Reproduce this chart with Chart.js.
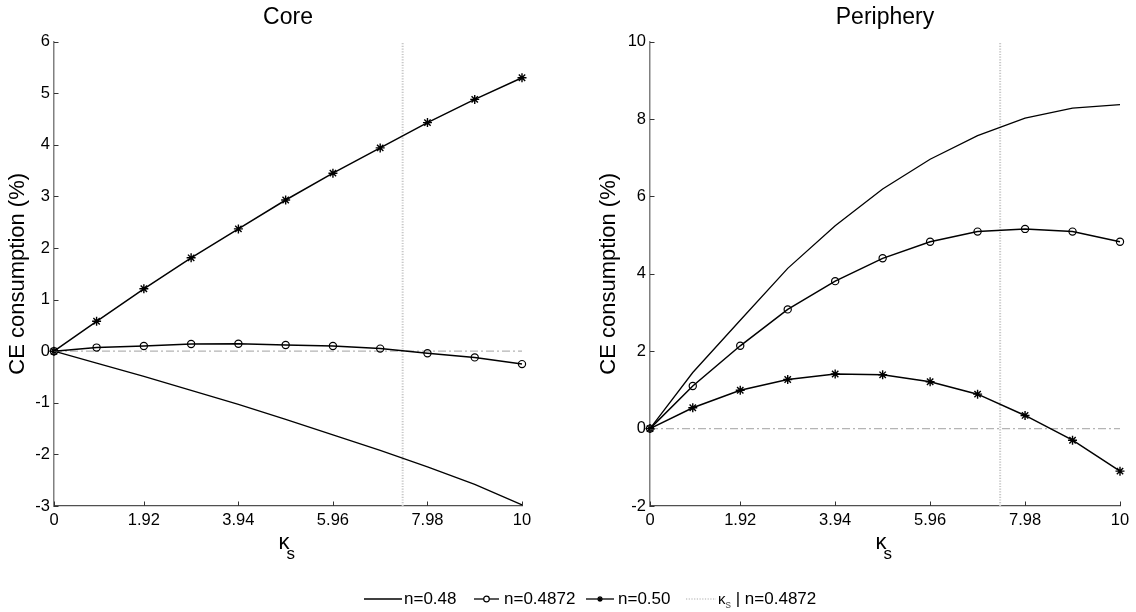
<!DOCTYPE html>
<html>
<head>
<meta charset="utf-8">
<script src="https://cdn.jsdelivr.net/npm/chart.js@4"></script>
<style>
  body { margin: 0; background: #fff; }
  #wrap { position: relative; width: 1136px; height: 612px; overflow: hidden; font-family: "Liberation Sans", Arial, sans-serif; }
  canvas { position: absolute; top: 0; }
  #core { left: 0; }
  #peri { left: 568px; }
  .lg { position: absolute; top: 589px; height: 20px; line-height: 20px; font-size: 17px; color: #000; white-space: nowrap; }
  .lg svg { position: absolute; top: 0; }
  .lg sub { font-size: 11px; vertical-align: -4px; color: #555; }
</style>
</head>
<body>
<div id="wrap">
  <canvas id="core" width="568" height="612"></canvas>
  <canvas id="peri" width="568" height="612"></canvas>

  <div class="lg" style="left:364px;"><svg width="38" height="20"><line x1="0" y1="10" x2="38" y2="10" stroke="#000" stroke-width="1.3"/></svg></div>
  <div class="lg" style="left:404px;">n=0.48</div>
  <div class="lg" style="left:474px;"><svg width="25" height="20"><line x1="0" y1="10" x2="25" y2="10" stroke="#000" stroke-width="1.3"/><circle cx="12.5" cy="10" r="2.8" fill="#fff" stroke="#000" stroke-width="1.2"/></svg></div>
  <div class="lg" style="left:504px;">n=0.4872</div>
  <div class="lg" style="left:586px;"><svg width="28" height="20"><line x1="0" y1="10" x2="28" y2="10" stroke="#000" stroke-width="1.3"/><path d="M14 7v6M11 10h6M12 8l4 4M16 8l-4 4" stroke="#000" stroke-width="1.2"/></svg></div>
  <div class="lg" style="left:618px;">n=0.50</div>
  <div class="lg" style="left:686px;"><svg width="30" height="20"><line x1="0" y1="10" x2="30" y2="10" stroke="#c8c8c8" stroke-width="1.5" stroke-dasharray="1.2 1.5"/></svg></div>
  <div class="lg" style="left:718px;"><span style="font-size:15px;">κ</span><sub>s</sub> | n=0.4872</div>
</div>

<script>
// kappa_s grid of the computed points and the tick labels of the x axis
const kappa = [0, 0.91, 1.92, 2.93, 3.94, 4.95, 5.96, 6.97, 7.98, 8.99, 10];
const xTickValues = [0, 1.92, 3.94, 5.96, 7.98, 10];
const kappaThreshold = 7.45; // kappa_s | n=0.4872

// Core (%)
const coreN048 = [0, -0.23, -0.49, -0.76, -1.03, -1.32, -1.62, -1.92, -2.24, -2.58, -2.98];
const coreN04872 = [0, 0.07, 0.10, 0.14, 0.145, 0.12, 0.10, 0.05, -0.04, -0.12, -0.25];
const coreN050 = [0, 0.58, 1.21, 1.81, 2.37, 2.93, 3.45, 3.94, 4.43, 4.88, 5.30];
const coreYRange = [-3, 6];

// Periphery (%)
const periN048 = [0, 1.45, 2.80, 4.14, 5.24, 6.19, 6.96, 7.57, 8.02, 8.28, 8.37];
const periN04872 = [0, 1.10, 2.14, 3.08, 3.81, 4.40, 4.83, 5.09, 5.16, 5.09, 4.83];
const periN050 = [0, 0.54, 0.99, 1.27, 1.41, 1.39, 1.21, 0.89, 0.34, -0.30, -1.10];
const periYRange = [-2, 10];

const FONT = '"Liberation Sans", Arial, sans-serif';

function pts(vals) {
    return kappa.map((k, i) => ({ x: k, y: vals[i] }));
}

// inward tick marks and the kappa_s axis title
const matlabAxes = {
    id: 'matlabAxes',
    afterDraw(chart) {
        const { ctx, chartArea: a, scales: { x, y } } = chart;
        ctx.save();
        ctx.strokeStyle = '#333';
        ctx.lineWidth = 1;
        ctx.beginPath();
        x.ticks.forEach(t => {
            const px = Math.round(x.getPixelForValue(t.value)) + 0.5;
            ctx.moveTo(px, a.bottom);
            ctx.lineTo(px, a.bottom - 4.5);
        });
        y.ticks.forEach(t => {
            const py = Math.round(y.getPixelForValue(t.value)) + 0.5;
            ctx.moveTo(a.left, py);
            ctx.lineTo(a.left + 4.5, py);
        });
        ctx.stroke();

        const cx = (a.left + a.right) / 2 - 4;
        ctx.fillStyle = '#000';
        ctx.textAlign = 'left';
        ctx.textBaseline = 'alphabetic';
        ctx.font = '22px ' + FONT;
        const kw = ctx.measureText('κ').width;
        ctx.fillText('κ', cx - kw / 2, 549);
        ctx.font = '17px ' + FONT;
        ctx.fillText('s', cx + kw / 2 - 3, 559);
        ctx.restore();
    }
};

function makeChart(id, title, s048, s04872, s050, yRange, yStep, pad, yWidth) {
    return new Chart(document.getElementById(id).getContext('2d'), {
        type: 'scatter',
        data: {
            datasets: [
                {
                    label: 'n=0.48',
                    data: pts(s048),
                    showLine: true,
                    borderColor: '#000',
                    borderWidth: 1.3,
                    pointRadius: 0,
                    clip: false
                },
                {
                    label: 'n=0.4872',
                    data: pts(s04872),
                    showLine: true,
                    borderColor: '#000',
                    borderWidth: 1.5,
                    pointStyle: 'circle',
                    pointRadius: 3.6,
                    pointBorderWidth: 1.2,
                    pointBackgroundColor: 'rgba(0,0,0,0)',
                    pointBorderColor: '#000',
                    clip: false
                },
                {
                    label: 'n=0.50',
                    data: pts(s050),
                    showLine: true,
                    borderColor: '#000',
                    borderWidth: 1.5,
                    pointStyle: 'star',
                    pointRadius: 4.5,
                    pointBorderWidth: 1.4,
                    pointBorderColor: '#000',
                    clip: false
                },
                {
                    label: 'κs | n=0.4872',
                    data: [{ x: kappaThreshold, y: yRange[0] }, { x: kappaThreshold, y: yRange[1] }],
                    showLine: true,
                    borderColor: '#c8c8c8',
                    borderWidth: 2,
                    borderDash: [1.2, 1.5],
                    pointRadius: 0
                },
                {
                    label: 'zero',
                    data: [{ x: 0, y: 0 }, { x: 10, y: 0 }],
                    showLine: true,
                    borderColor: '#b4b4b4',
                    borderWidth: 1.2,
                    borderDash: [8, 3, 2, 3],
                    pointRadius: 0
                }
            ]
        },
        options: {
            responsive: false,
            animation: false,
            events: [],
            layout: { padding: pad },
            plugins: {
                legend: { display: false },
                tooltip: { enabled: false },
                title: {
                    display: true,
                    text: title,
                    fullSize: false,
                    color: '#000',
                    font: { family: FONT, size: 23, weight: 'normal' },
                    padding: { top: 4, bottom: 10 }
                }
            },
            scales: {
                x: {
                    type: 'linear',
                    min: 0,
                    max: 10,
                    afterBuildTicks: s => { s.ticks = xTickValues.map(v => ({ value: v })); },
                    afterFit: s => { s.height = 30; },
                    grid: { display: false, drawTicks: false },
                    border: { display: true, color: '#505050', width: 1.2 },
                    ticks: {
                        color: '#000',
                        padding: 5,
                        maxRotation: 0,
                        font: { family: FONT, size: 16.5 },
                        callback: v => v.toString()
                    }
                },
                y: {
                    min: yRange[0],
                    max: yRange[1],
                    afterFit: s => { s.width = yWidth; },
                    grid: { display: false, drawTicks: false },
                    border: { display: true, color: '#808080', width: 1.5 },
                    ticks: {
                        stepSize: yStep,
                        color: '#000',
                        padding: 4,
                        font: { family: FONT, size: 16.5 }
                    },
                    title: {
                        display: true,
                        text: 'CE consumption (%)',
                        color: '#000',
                        font: { family: FONT, size: 22 },
                        padding: { top: 5, bottom: 0 }
                    }
                }
            }
        },
        plugins: [matlabAxes]
    });
}

const coreChart = makeChart('core', 'Core', coreN048, coreN04872, coreN050, coreYRange, 1,
    { left: 0, right: 46, top: 0, bottom: 76 }, 54);
const periChart = makeChart('peri', 'Periphery', periN048, periN04872, periN050, periYRange, 2,
    { left: 23, right: 16, top: 0, bottom: 76 }, 59);
</script>
</body>
</html>
